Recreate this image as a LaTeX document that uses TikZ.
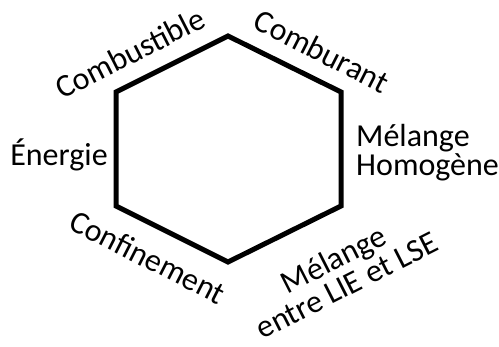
\documentclass[tikz,border=0pt]{standalone}
\usepackage{fontspec}
\setmainfont{Carlito}

\begin{document}
\begin{tikzpicture}[
  x=1pt, y=-1pt,
  side/.style={line width=5pt, line join=miter},
  lbl/.style={inner sep=0pt, font=\fontsize{32}{29}\selectfont, align=center}
]
  \useasboundingbox (0,0) rectangle (499,347);
  \coordinate (t) at (228,36);
  \coordinate (ur) at (341,92);
  \coordinate (lr) at (341,206);
  \coordinate (b) at (228,262);
  \coordinate (ll) at (116,206);
  \coordinate (ul) at (116,92);
  \draw[side] (t) -- (ur) -- (lr) -- (b) -- (ll) -- (ul) -- cycle;
  \node[lbl,rotate=27] (comb) at (130,53) {Combustible};
  \node[lbl,rotate=-27] (cbr) at (322,51) {Comburant};
  \node[lbl] (nrj) at (59,155) {Énergie};
  \node[lbl,anchor=west,align=left] (hom) at (356,153) {Mélange\\Homogène};
  \node[lbl,rotate=-27] (conf) at (148,257) {Confinement};
  \node[lbl,rotate=27] (lim) at (340,272) {Mélange\\entre LIE et LSE};
\end{tikzpicture}
\end{document}
